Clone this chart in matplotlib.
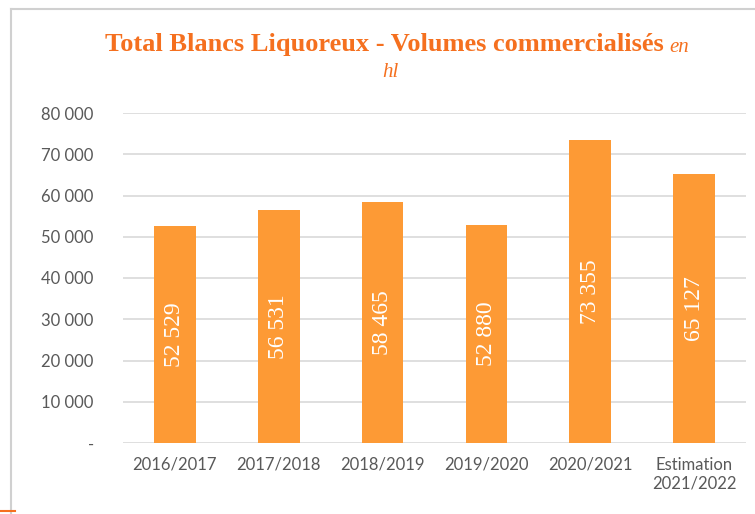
import matplotlib.pyplot as plt
from matplotlib.ticker import FuncFormatter
from matplotlib.lines import Line2D

categories = ['2016/2017', '2017/2018', '2018/2019', '2019/2020', '2020/2021',
              'Estimation\n2021/2022']
volumes = [52529, 56531, 58465, 52880, 73355, 65127]
y_ticks = [0, 10000, 20000, 30000, 40000, 50000, 60000, 70000, 80000]

bar_color = '#FD9A35'
title_color = '#F5701F'
text_gray = '#595959'


def fmt(v, pos=None):
    if v == 0:
        return '-'
    return f'{int(v):,}'.replace(',', ' ')


fig = plt.figure(figsize=(7.55, 5.14), dpi=100)
ax = fig.add_axes([123 / 755, 1 - 443 / 514, (746 - 123) / 755, 330 / 514])

x = range(len(categories))
bars = ax.bar(x, volumes, width=0.4, color=bar_color, zorder=3)

for rect, v in zip(bars, volumes):
    ax.text(rect.get_x() + rect.get_width() / 2, v / 2, fmt(v),
            rotation=90, ha='center', va='center', color='white',
            fontsize=17, family='Liberation Serif', zorder=4)

ax.set_xlim(-0.5, len(categories) - 0.5)
ax.set_ylim(0, 80000)
ax.set_yticks(y_ticks)
ax.yaxis.set_major_formatter(FuncFormatter(fmt))
ax.set_xticks(list(x))
ax.set_xticklabels(categories)
ax.grid(axis='y', color='#D9D9D9', linewidth=1.2, zorder=0)
for s in ax.spines.values():
    s.set_visible(False)
ax.tick_params(length=0, colors=text_gray, labelsize=12)
ax.tick_params(axis='y', pad=21)
ax.tick_params(axis='x', pad=10)
for lab in ax.get_xticklabels() + ax.get_yticklabels():
    lab.set_family('Lato')

# title: bold serif with italic unit right after it
t1 = fig.text(105 / 755, 1 - 45 / 514, 'Total Blancs Liquoreux - Volumes commercialisés',
              ha='left', va='center', fontsize=19, fontweight='bold',
              family='Liberation Serif', color=title_color)
fig.canvas.draw()
bb = t1.get_window_extent()
fig.text((bb.x1 + 6) / 755, 1 - 47 / 514, 'en', ha='left', va='center', fontsize=15,
         style='italic', family='Liberation Serif', color=title_color)
fig.text(390 / 755, 1 - 73 / 514, 'hl', ha='center', va='center', fontsize=15,
         style='italic', family='Liberation Serif', color=title_color)

# frame lines
fig.add_artist(Line2D([11 / 755, 1], [1 - 9 / 514, 1 - 9 / 514], color='#D0D0D0', lw=1.5))
fig.add_artist(Line2D([11 / 755, 11 / 755], [0, 1 - 9 / 514], color='#D0D0D0', lw=1.5))
fig.add_artist(Line2D([0, 15 / 755], [1 - 511 / 514, 1 - 511 / 514], color='#F5701F', lw=1.5))

fig.savefig('out.png', dpi=100)
